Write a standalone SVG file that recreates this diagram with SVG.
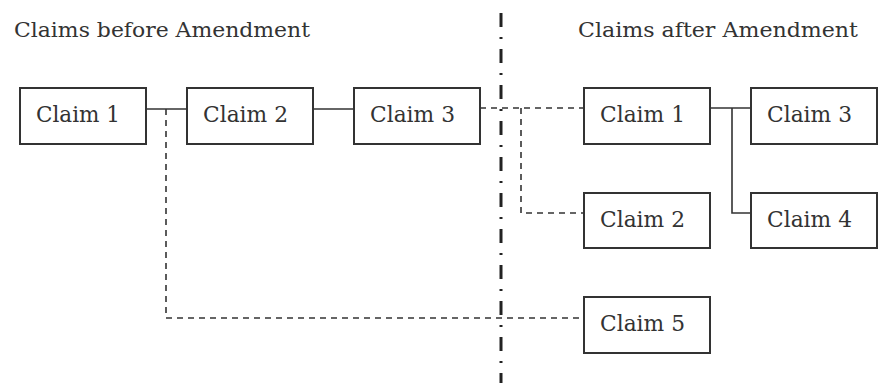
<svg xmlns="http://www.w3.org/2000/svg" width="890" height="383" viewBox="0 0 890 383">
<style>
.box{fill:#fff;stroke:#333;stroke-width:2}
.lbl{font-family:"DejaVu Serif","Liberation Serif",serif;font-size:23px;fill:#333}
.title{font-family:"DejaVu Serif","Liberation Serif",serif;font-size:21px;fill:#333}
.solid{fill:none;stroke:#333;stroke-width:1.6}
.dash{fill:none;stroke:#333;stroke-width:1.6;stroke-dasharray:6 5}
.divider{fill:none;stroke:#222;stroke-width:3;stroke-dasharray:14 10 2 10}
</style>
<rect width="890" height="383" fill="#fff"/>
<text class="title" x="14" y="37" textLength="296" lengthAdjust="spacingAndGlyphs">Claims before Amendment</text>
<text class="title" x="578" y="37" textLength="280" lengthAdjust="spacingAndGlyphs">Claims after Amendment</text>
<line class="divider" x1="501" y1="13" x2="501" y2="383"/>
<g id="connectors">
<path class="solid" d="M146 109H187"/>
<path class="solid" d="M313 109H354"/>
<path class="solid" d="M710 108H751"/>
<path class="solid" d="M732 108V213H751"/>
<path class="dash" d="M166 109V318H584"/>
<path class="dash" d="M480 108H584"/>
<path class="dash" d="M521 108V213H584"/>
</g>
<g id="b1"><rect class="box" x="20" y="88" width="126" height="56"/><text class="lbl" x="36" y="122" textLength="84" lengthAdjust="spacingAndGlyphs">Claim 1</text></g>
<g id="b2"><rect class="box" x="187" y="88" width="126" height="56"/><text class="lbl" x="203" y="122" textLength="85" lengthAdjust="spacingAndGlyphs">Claim 2</text></g>
<g id="b3"><rect class="box" x="354" y="88" width="126" height="56"/><text class="lbl" x="370" y="122" textLength="85" lengthAdjust="spacingAndGlyphs">Claim 3</text></g>
<g id="a1"><rect class="box" x="584" y="88" width="126" height="56"/><text class="lbl" x="600" y="122" textLength="85" lengthAdjust="spacingAndGlyphs">Claim 1</text></g>
<g id="a3"><rect class="box" x="751" y="88" width="126" height="56"/><text class="lbl" x="767" y="122" textLength="85" lengthAdjust="spacingAndGlyphs">Claim 3</text></g>
<g id="a2"><rect class="box" x="584" y="193" width="126" height="55"/><text class="lbl" x="600" y="227" textLength="85" lengthAdjust="spacingAndGlyphs">Claim 2</text></g>
<g id="a4"><rect class="box" x="751" y="193" width="126" height="55"/><text class="lbl" x="767" y="227" textLength="85" lengthAdjust="spacingAndGlyphs">Claim 4</text></g>
<g id="a5"><rect class="box" x="584" y="297" width="126" height="56"/><text class="lbl" x="600" y="331" textLength="85" lengthAdjust="spacingAndGlyphs">Claim 5</text></g>
</svg>
